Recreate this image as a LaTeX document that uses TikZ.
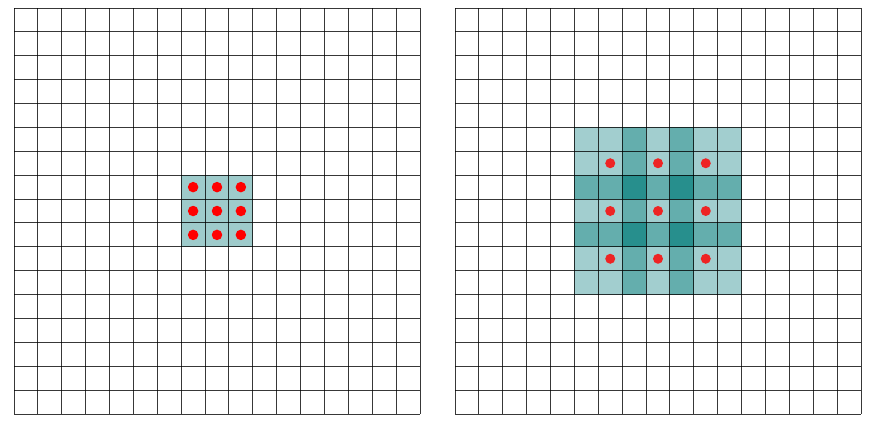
\documentclass[tikz,border=0pt]{standalone}
\usepackage{tikz}
\definecolor{tlight}{HTML}{A2CECF}
\definecolor{tleft}{HTML}{9ECBCB}
\definecolor{tmed}{HTML}{64AEAD}
\definecolor{tdark}{HTML}{278F8D}
\definecolor{dotred}{HTML}{FF0000}
\definecolor{dotred2}{HTML}{EE2424}
\tikzset{
  gridline/.style={draw=black, draw opacity=0.78, line width=1pt},
  cellfill/.style={fill=#1, draw=none},
  kdot/.style={circle, fill=#1, draw=none, inner sep=0pt, minimum size=10.5pt}
}
\begin{document}
\begin{tikzpicture}[x=1pt,y=-1pt]
\useasboundingbox[fill=white] (0,0) rectangle (875,424);
\pgfmathsetmacro{\s}{406/17}
% ---- left panel fills
\foreach \c in {7,8,9}{
  \foreach \r in {7,8,9}{
    \fill[tleft] ({14+\c*\s},{8+\r*\s}) rectangle ({14+(\c+1)*\s},{8+(\r+1)*\s});
  }
}
% ---- right panel fills
\foreach \i in {0,...,6}{
  \foreach \j in {0,...,6}{
    \pgfmathtruncatemacro{\ai}{(\i==2 || \i==4) ? 2 : 1}
    \pgfmathtruncatemacro{\aj}{(\j==2 || \j==4) ? 2 : 1}
    \pgfmathtruncatemacro{\cnt}{\ai*\aj}
    \ifnum\cnt=1 \def\cc{tlight}\fi
    \ifnum\cnt=2 \def\cc{tmed}\fi
    \ifnum\cnt=4 \def\cc{tdark}\fi
    \fill[\cc] ({455+(5+\i)*\s},{8+(5+\j)*\s}) rectangle ({455+(6+\i)*\s},{8+(6+\j)*\s});
  }
}
% ---- grids
\foreach \xo in {14,455}{
  \foreach \k in {0,...,17}{
    \draw[gridline] ({\xo+\k*\s},8) -- ({\xo+\k*\s},414);
    \draw[gridline] (\xo,{8+\k*\s}) -- ({\xo+406},{8+\k*\s});
  }
}
% ---- dots left
\foreach \c in {7,8,9}{
  \foreach \r in {7,8,9}{
    \node[kdot=dotred] (L\c\r) at ({14+(\c+0.5)*\s},{8+(\r+0.5)*\s}) {};
  }
}
% ---- dots right
\foreach \c in {6,8,10}{
  \foreach \r in {6,8,10}{
    \node[kdot=dotred2, minimum size=10pt] (R\c\r) at ({455+(\c+0.5)*\s},{8+(\r+0.5)*\s}) {};
  }
}
\end{tikzpicture}
\end{document}
